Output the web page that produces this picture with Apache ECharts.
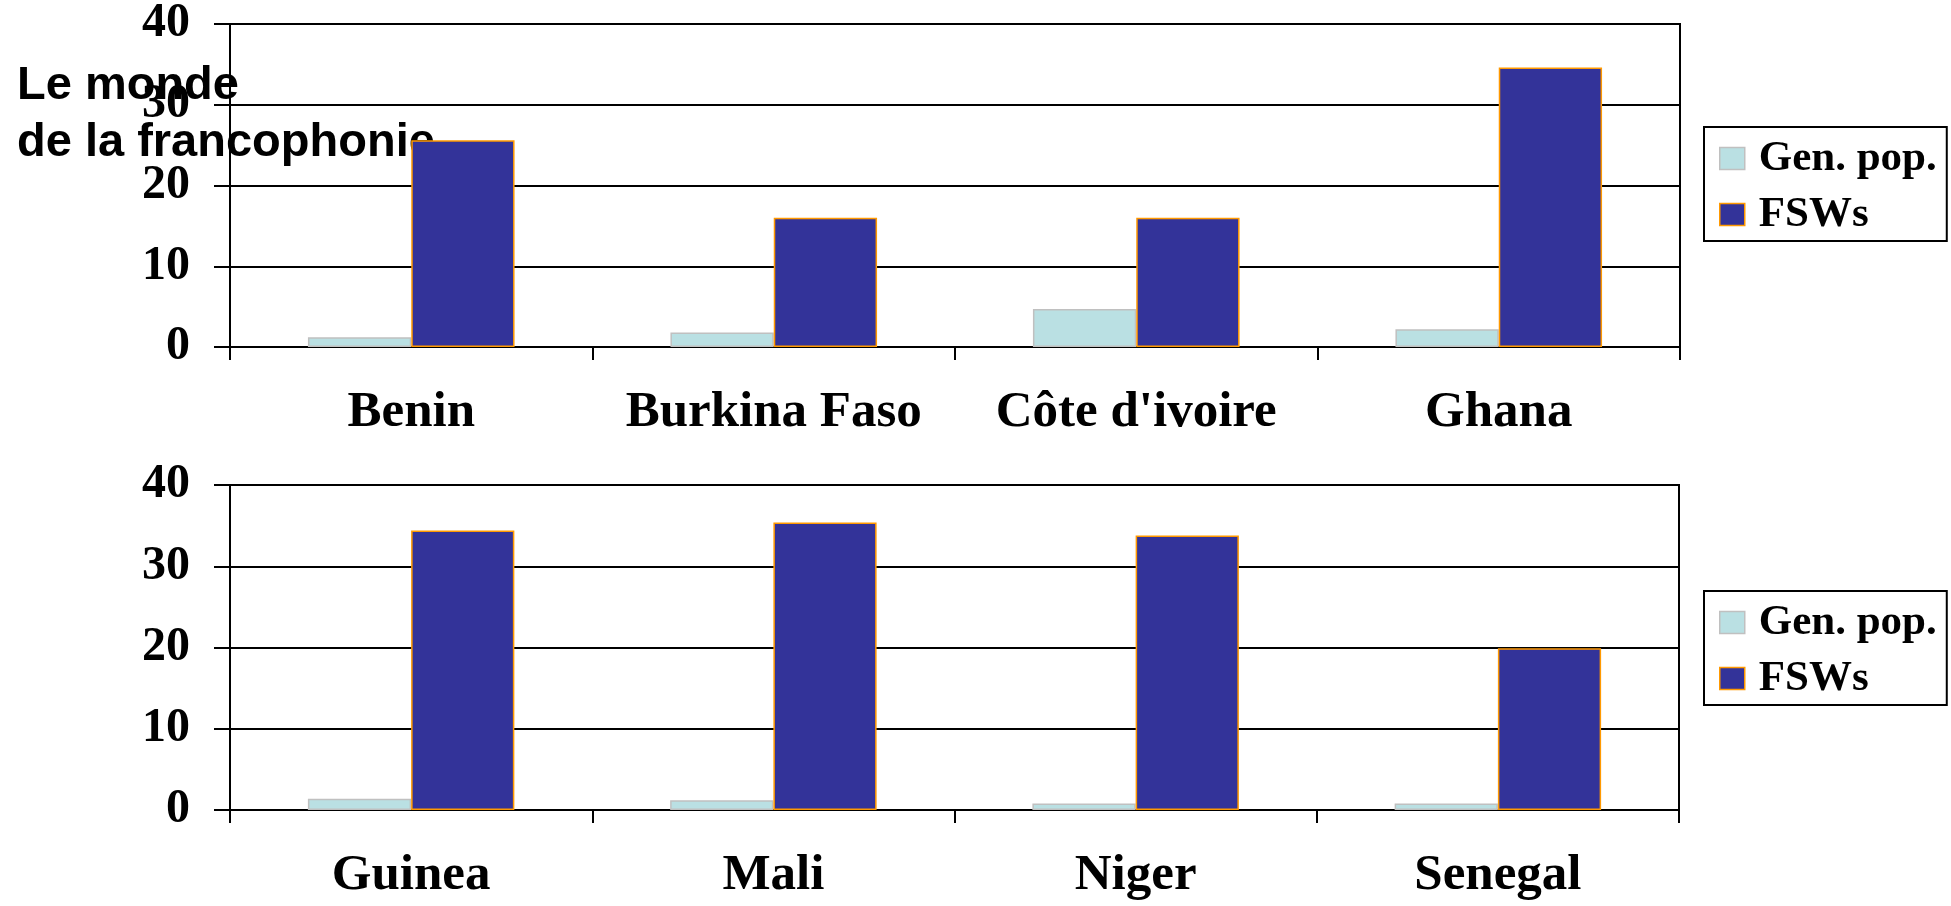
<!DOCTYPE html>
<html>
<head>
<meta charset="utf-8">
<script src="https://cdn.jsdelivr.net/npm/echarts@6/dist/echarts.min.js"></script>
<style>
  html, body { margin: 0; padding: 0; background: #fff; }
  #chart { width: 1951px; height: 906px; }
</style>
</head>
<body>
<div id="chart"></div>
<script>
// data (HIV prevalence, %)
const topCountries = ['Benin', 'Burkina Faso', "Côte d'ivoire", 'Ghana'];
const topGenPop = [1.2, 1.8, 4.7, 2.2];
const topFSW = [25.6, 16.0, 16.0, 34.6];

const bottomCountries = ['Guinea', 'Mali', 'Niger', 'Senegal'];
const bottomGenPop = [1.4, 1.2, 0.8, 0.8];
const bottomFSW = [34.4, 35.4, 33.8, 19.9];

const seriesNames = ['Gen. pop.', 'FSWs'];
const yTicks = [0, 10, 20, 30, 40];

const serif = 'Liberation Serif';
const genStyle = { color: '#BAE0E3', borderColor: '#C0C0C0', borderWidth: 1.5 };
const fswStyle = { color: '#333399', borderColor: '#FF9900', borderWidth: 1.5 };

const myChart = echarts.init(document.getElementById('chart'));

function xAxis(gridIndex, cats) {
  return {
    type: 'category',
    gridIndex: gridIndex,
    data: cats,
    axisLine: { lineStyle: { color: '#000', width: 2 } },
    axisTick: { show: true, alignWithLabel: false, length: 13, lineStyle: { color: '#000', width: 2 } },
    axisLabel: { color: '#000', fontFamily: serif, fontWeight: 'bold', fontSize: 51, margin: 40, interval: 0 },
    splitLine: { show: false }
  };
}

function yAxis(gridIndex) {
  return {
    type: 'value',
    gridIndex: gridIndex,
    min: yTicks[0],
    max: yTicks[yTicks.length - 1],
    interval: 10,
    axisLine: { show: true, lineStyle: { color: '#000', width: 2 } },
    axisTick: { show: true, length: 16, lineStyle: { color: '#000', width: 2 } },
    axisLabel: { color: '#000', fontFamily: serif, fontWeight: 'bold', fontSize: 48, margin: 40 },
    splitLine: { show: true, lineStyle: { color: '#000', width: 2 } }
  };
}

function legend(top) {
  return {
    orient: 'vertical',
    left: 1704,
    top: top,
    data: [
      { name: seriesNames[0], itemStyle: genStyle },
      { name: seriesNames[1], itemStyle: fswStyle }
    ],
    icon: 'rect',
    itemWidth: 25,
    itemHeight: 22,
    itemGap: 13,
    padding: [10, 10, 5, 15],
    borderColor: '#000',
    borderWidth: 2,
    backgroundColor: '#fff',
    selectedMode: false,
    textStyle: { color: '#000', fontFamily: serif, fontWeight: 'bold', fontSize: 43, padding: [0, 0, 0, 9] }
  };
}

function bars(name, data, style, idx) {
  return {
    name: name,
    type: 'bar',
    xAxisIndex: idx,
    yAxisIndex: idx,
    data: data,
    barGap: '0%',
    barCategoryGap: '43%',
    itemStyle: style,
    z: 10
  };
}

let option = {
  animation: false,
  backgroundColor: '#fff',
  title: {
    text: 'Le monde\nde la francophonie',
    left: 12,
    top: 53,
    z: 0,
    textStyle: { fontFamily: 'Liberation Sans', fontWeight: 'bold', fontSize: 47, lineHeight: 57, color: '#000' }
  },
  grid: [
    { left: 230, right: 271, top: 21, height: 326, show: true, borderColor: '#000', borderWidth: 2 },
    { left: 230, right: 272, top: 485, height: 325, show: true, borderColor: '#000', borderWidth: 2 }
  ],
  legend: [legend(127), legend(591)],
  xAxis: [xAxis(0, topCountries), xAxis(1, bottomCountries)],
  yAxis: [yAxis(0), yAxis(1)],
  series: [
    bars(seriesNames[0], topGenPop, genStyle, 0),
    bars(seriesNames[1], topFSW, fswStyle, 0),
    bars(seriesNames[0], bottomGenPop, genStyle, 1),
    bars(seriesNames[1], bottomFSW, fswStyle, 1)
  ]
};

myChart.setOption(option);
</script>
</body>
</html>
